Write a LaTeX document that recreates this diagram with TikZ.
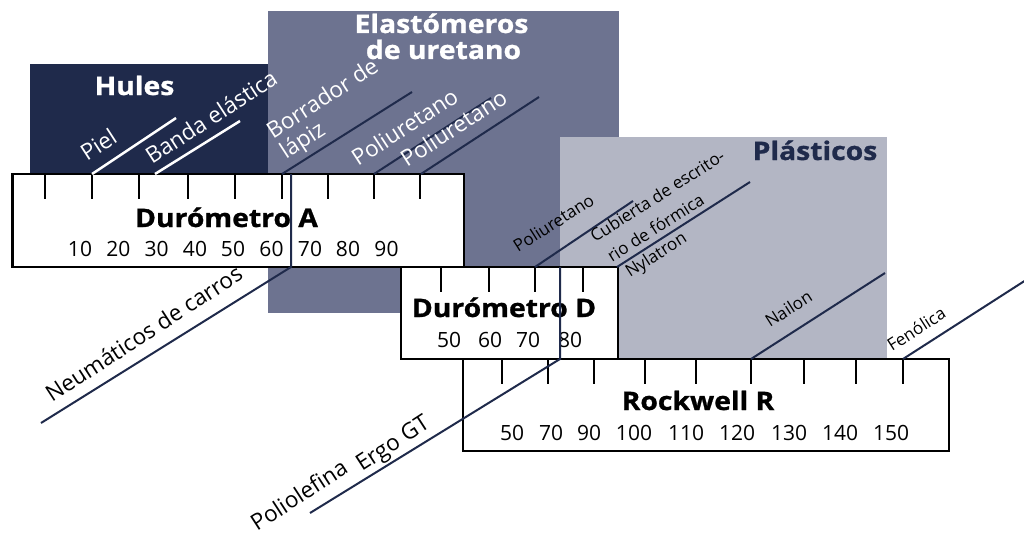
\documentclass[tikz,border=0pt]{standalone}
\usepackage{fontspec}
\setmainfont{Open Sans}
\newfontfamily\xbold{Open Sans}[FakeStretch=1.11, FakeBold=1]
\definecolor{navy}{HTML}{1F2A4B}
\definecolor{elast}{HTML}{6D7390}
\definecolor{plast}{HTML}{B3B6C4}
\begin{document}
\begin{tikzpicture}[x=1pt,y=-1pt,
  ttl/.style={font=\fontsize{25.5}{30}\xbold\bfseries, inner sep=0pt, anchor=base},
  num/.style={font=\fontsize{21}{24}\selectfont, inner sep=0pt, anchor=base},
  lbl/.style={font=\fontsize{22.5}{26}\selectfont, inner sep=0pt, anchor=base west, rotate=33},
  slbl/.style={font=\fontsize{17}{20}\selectfont, inner sep=0pt, anchor=base west, rotate=32.5},
  scalebox/.style={draw=black, line width=2.5pt, fill=white, rectangle, inner sep=0pt},
  tickmark/.style={black, line width=2pt},
  lead/.style={navy, line width=2pt},
  wlead/.style={white, line width=2.5pt},
  region/.style={rectangle, inner sep=0pt, draw=none}]
\useasboundingbox (0,0) rectangle (1024,535);
% category regions
\node[region, fill=navy, minimum width=270pt, minimum height=136pt] (hules) at (165,132) {};
\node[region, fill=elast, minimum width=351pt, minimum height=302pt] (elast) at (443.5,162) {};
\node[region, fill=plast, minimum width=327pt, minimum height=222pt] (plast) at (723.5,248) {};
\node[ttl, white] (thules) at (134.5,95) {Hules};
\node[ttl, white] (telast1) at (441.5,33) {Elastómeros};
\node[ttl, white] (telast2) at (443.5,59) {de uretano};
\node[ttl, navy] (tplast) at (815,160) {Plásticos};
% scale boxes
\node[scalebox, minimum width=451.5pt, minimum height=93pt] (boxA) at (238.25,220.5) {};
\node[scalebox, minimum width=217pt, minimum height=92pt] (boxD) at (509.5,313) {};
\node[scalebox, minimum width=486pt, minimum height=92pt] (boxR) at (706,405) {};
% ticks
\foreach \x in {45,92,139,188,235,282,328,374,420} \draw[tickmark] (\x,174) -- ++(0,25);
\foreach \x in {441,489,535,583} \draw[tickmark] (\x,267) -- ++(0,25);
\foreach \x in {502,548,594,645,696,751,804,856,903} \draw[tickmark] (\x,359) -- ++(0,25);
% titles of scales
\node[ttl] (tA) at (226.5,227) {Durómetro A};
\node[ttl] (tD) at (504,317) {Durómetro D};
\node[ttl] (tR) at (698,410) {Rockwell R};
% numbers
\foreach \x/\n [count=\i] in {80/10,118.3/20,156.6/30,195/40,233/50,271.5/60,310/70,348/80,386.5/90}
  \node[num] (nA\i) at (\x,256) {\n};
\foreach \x/\n [count=\i] in {449/50,490/60,528/70,570/80}
  \node[num] (nD\i) at (\x,347) {\n};
\foreach \x/\n [count=\i] in {512/50,551/70,589/90,634/100,686/110,737/120,789/130,840/140,891/150}
  \node[num] (nR\i) at (\x,440) {\n};
% leader coordinates
\coordinate (piel0) at (92,174);   \coordinate (piel1) at (176,118);
\coordinate (banda0) at (155,174); \coordinate (banda1) at (240,121);
\coordinate (borr0) at (282,174);  \coordinate (borr1) at (412,92);
\coordinate (pu10) at (374,174);   \coordinate (pu11) at (491,98);
\coordinate (pu20) at (421,174);   \coordinate (pu21) at (539,97);
\coordinate (vA0) at (291,174);    \coordinate (vA1) at (291,267);
\coordinate (neu1) at (41,423);
\coordinate (pu30) at (535,267);   \coordinate (pu31) at (633,201);
\coordinate (cub0) at (617,267);   \coordinate (cub1) at (750,182);
\coordinate (vD0) at (560,267);    \coordinate (vD1) at (560,359);
\coordinate (pol1) at (310,513);
\coordinate (nai0) at (751,359);   \coordinate (nai1) at (885,273);
\coordinate (fen0) at (903,359);   \coordinate (fen1) at (1026,280);
% leaders
\draw[wlead] (piel0) -- (piel1);
\draw[wlead] (banda0) -- (banda1);
\draw[lead] (borr0) -- (borr1);
\draw[lead] (pu10) -- (pu11);
\draw[lead] (pu20) -- (pu21);
\draw[lead] (vA0) -- (vA1) -- (neu1);
\draw[lead] (pu30) -- (pu31);
\draw[lead] (cub0) -- (cub1);
\draw[lead] (vD0) -- (vD1) -- (pol1);
\draw[lead] (nai0) -- (nai1);
\draw[lead] (fen0) -- (fen1);
% labels
\node[lbl, white] (lpiel) at (87,162) {Piel};
\node[lbl, white] (lbanda) at (152,165) {Banda elástica};
\node[lbl, white] (lborr1) at (273,140) {Borrador de};
\node[lbl, white] (lborr2) at (286,160) {lápiz};
\node[lbl, white] (lpu1) at (358,167) {Poliuretano};
\node[lbl, white] (lpu2) at (407,168) {Poliuretano};
\node[lbl] (lneu) at (52,403) {Neumáticos de carros};
\node[slbl] (lpu3) at (518,253) {Poliuretano};
\node[slbl] (lcub1) at (595,243) {Cubierta de escrito-};
\node[slbl] (lcub2) at (612,263) {rio de fórmica};
\node[slbl] (lnyl) at (630,278) {Nylatron};
\node[slbl] (lnai) at (770,328) {Nailon};
\node[slbl] (lfen) at (892,352) {Fenólica};
\node[lbl] (lpol) at (257,532) {Poliolefina};
\node[lbl] (lergo) at (362,472) {Ergo GT};
\end{tikzpicture}
\end{document}
